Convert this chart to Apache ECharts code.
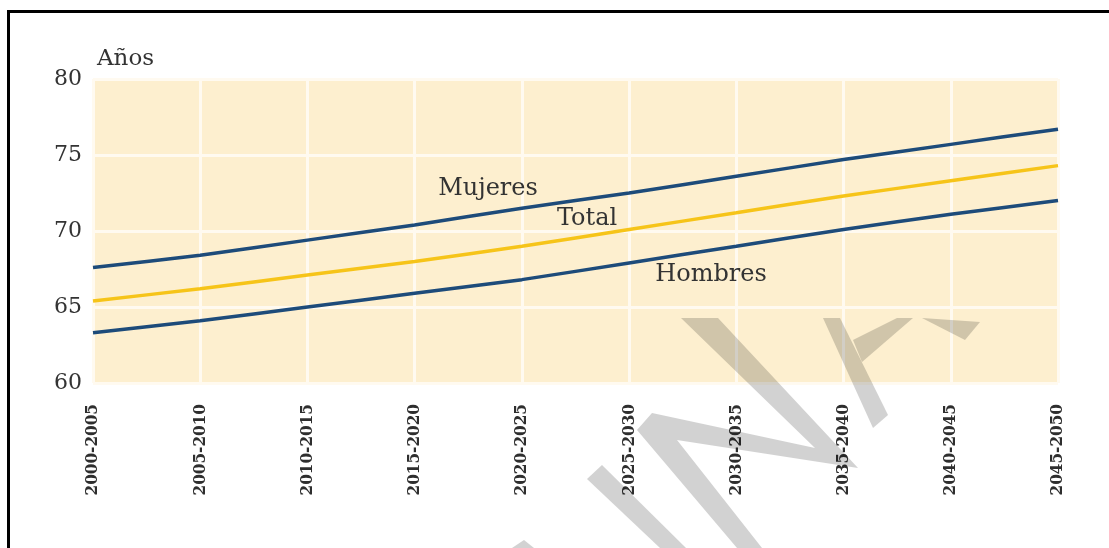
<!DOCTYPE html>
<html>
<head>
<meta charset="utf-8">
<script src="https://cdn.jsdelivr.net/npm/echarts@6/dist/echarts.min.js"></script>
<style>
html,body{margin:0;padding:0;background:#fff;}
#chart{width:1109px;height:548px;}
</style>
</head>
<body>
<div id="chart"></div>
<script>
var categories = ['2000-2005','2005-2010','2010-2015','2015-2020','2020-2025','2025-2030','2030-2035','2035-2040','2040-2045','2045-2050'];
var mujeres = [67.6, 68.4, 69.4, 70.4, 71.5, 72.5, 73.6, 74.7, 75.7, 76.7];
var total   = [65.4, 66.2, 67.1, 68.0, 69.0, 70.1, 71.2, 72.3, 73.3, 74.3];
var hombres = [63.3, 64.1, 65.0, 65.9, 66.8, 67.9, 69.0, 70.1, 71.1, 72.0];
var yTicks = {min: 60, max: 80, interval: 5};
var yName = 'Años';
var seriesNames = ['Mujeres', 'Total', 'Hombres'];

var chart = echarts.init(document.getElementById('chart'), null, {renderer: 'canvas'});
var serif = '"DejaVu Serif", serif';
var blue = '#1d4b7a', gold = '#f6c419';
var wm = '#d2d2d2';
function poly(pts) {
  return {type: 'polygon', z: 100, silent: true, shape: {points: pts}, style: {fill: wm, blend: 'multiply'}};
}
var option = {
  backgroundColor: '#ffffff',
  animation: false,
  grid: {left: 93, right: 51, top: 79, bottom: 165, show: true, backgroundColor: '#fdefcf', borderWidth: 0},
  xAxis: {
    type: 'category', data: categories, boundaryGap: false,
    axisLine: {show: false}, axisTick: {show: false},
    axisLabel: {rotate: 90, margin: 21, fontFamily: '"DejaVu Serif Condensed", serif', fontWeight: 'bold', fontSize: 17, color: '#2e2e2e'},
    splitLine: {show: true, lineStyle: {color: '#fffaf0', width: 3}}
  },
  yAxis: {
    type: 'value', min: yTicks.min, max: yTicks.max, interval: yTicks.interval,
    name: yName, nameLocation: 'end', nameGap: 8,
    nameTextStyle: {fontFamily: serif, fontSize: 23, color: '#333', align: 'left', verticalAlign: 'bottom', padding: [0, 0, 0, 4]},
    axisLine: {show: false}, axisTick: {show: false},
    axisLabel: {margin: 11, fontFamily: serif, fontSize: 22, color: '#333'},
    splitLine: {show: true, lineStyle: {color: '#fffaf0', width: 3}}
  },
  series: [
    {name: seriesNames[0], type: 'line', data: mujeres, smooth: 0.2, symbol: 'none', lineStyle: {color: blue, width: 3.5}},
    {name: seriesNames[1], type: 'line', data: total, smooth: 0.2, symbol: 'none', lineStyle: {color: gold, width: 3.5}},
    {name: seriesNames[2], type: 'line', data: hombres, smooth: 0.2, symbol: 'none', lineStyle: {color: blue, width: 3.5}}
  ],
  graphic: [
    {type: 'text', z: 50, style: {text: seriesNames[0], x: 488, y: 189, align: 'center', verticalAlign: 'middle', font: '24px "DejaVu Serif", serif', fill: '#333'}},
    {type: 'text', z: 50, style: {text: seriesNames[1], x: 587, y: 219, align: 'center', verticalAlign: 'middle', font: '24px "DejaVu Serif", serif', fill: '#333'}},
    {type: 'text', z: 50, style: {text: seriesNames[2], x: 711, y: 275, align: 'center', verticalAlign: 'middle', font: '24px "DejaVu Serif", serif', fill: '#333'}},
    poly([[512,548],[524,540],[534,548]]),
    poly([[587,479],[602,465],[686,548],[660,548]]),
    poly([[737,548],[637,430],[652,413],[815,448],[681,318],[718,318],[858,468],[677,440],[762,548]]),
    poly([[823,318],[840,318],[888,415],[873,428]]),
    poly([[853,340],[897,318],[913,318],[862,362]]),
    poly([[922,318],[980,322],[965,340]]),
    {type: 'rect', z: 120, silent: true, shape: {x: 8.5, y: 11.5, width: 1200, height: 700}, style: {fill: 'none', stroke: '#000', lineWidth: 3}}
  ]
};
chart.setOption(option);
</script>
</body>
</html>
